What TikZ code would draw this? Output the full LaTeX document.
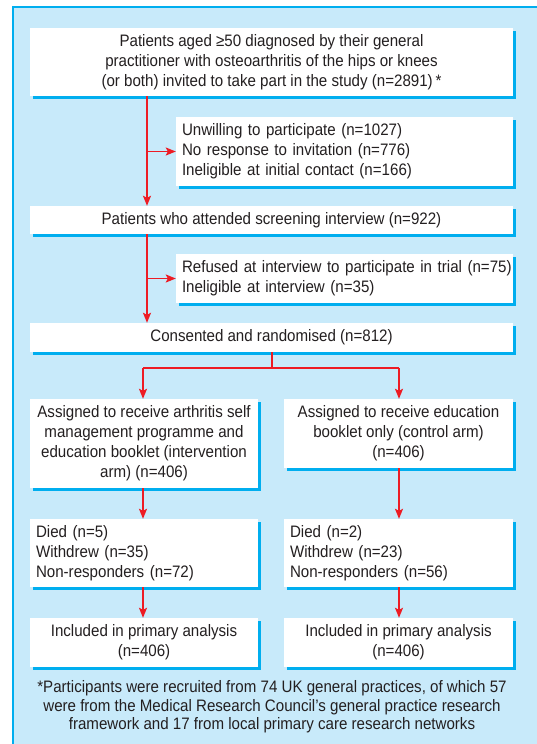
\documentclass[tikz,border=0pt]{standalone}
\usepackage{fontspec}
\setmainfont{Liberation Sans}[FakeStretch=0.91]
\usetikzlibrary{arrows.meta,shadows}
\definecolor{panelblue}{RGB}{200,234,250}
\definecolor{shadowcyan}{RGB}{0,174,239}
\definecolor{arrred}{RGB}{237,28,36}
\definecolor{txt}{RGB}{35,31,32}
\tikzset{
  box/.style={fill=white, inner sep=0pt, text=txt, font=\fontsize{16.6}{20}\selectfont,
    drop shadow={shadow xshift=3pt, shadow yshift=-3pt, fill=shadowcyan, opacity=1}},
  cbox/.style={box, align=center},
  lbox/.style={box, align=left, inner xsep=6pt},
  arr/.style={draw=arrred, line width=1.5pt, -{Stealth[length=10pt,width=8pt,inset=2pt]}},
  lin/.style={draw=arrred, line width=1.5pt},
  note/.style={text=txt, font=\fontsize{16.6}{18.5}\selectfont, align=center, inner sep=0pt}
}
\begin{document}
\begin{tikzpicture}[x=1pt,y=-1pt]
\useasboundingbox (0,0) rectangle (537,744);
\fill[panelblue] (13,7) rectangle (537,744);
\draw[shadowcyan, line width=1.2pt] (13,744) -- (13,7) -- (537,7);

\node[cbox, minimum width=483pt, minimum height=68pt] (b1) at (271.5,62)
  {Patients aged ≥50 diagnosed by their general\\practitioner with osteoarthritis of the hips or knees\\(or both) invited to take part in the study (n=2891)\,*};
\node[lbox, text width=325pt, minimum height=69pt] (b2) at (344.5,151.5)
  {Unwilling to participate (n=1027)\\No response to invitation (n=776)\\Ineligible at initial contact (n=166)};
\node[cbox, minimum width=483pt, minimum height=28pt] (b3) at (271.5,220)
  {Patients who attended screening interview (n=922)};
\node[lbox, text width=325pt, minimum height=49pt] (b4) at (344.5,278.5)
  {\makebox[325pt][l]{Refused at interview to participate in trial (n=75)}\\Ineligible at interview (n=35)};
\node[cbox, minimum width=483pt, minimum height=29pt] (b5) at (271.5,337.5)
  {Consented and randomised (n=812)};
\node[cbox, minimum width=228pt, minimum height=89pt] (b6l) at (144,443.5)
  {Assigned to receive arthritis self\\management programme and\\education booklet (intervention\\arm) (n=406)};
\node[cbox, minimum width=229pt, minimum height=69pt] (b6r) at (398.5,433.5)
  {Assigned to receive education\\booklet only (control arm)\\(n=406)};
\node[lbox, text width=216pt, minimum height=68pt] (b7l) at (144,553)
  {Died (n=5)\\Withdrew (n=35)\\Non-responders (n=72)};
\node[lbox, text width=217pt, minimum height=68pt] (b7r) at (398.5,553)
  {Died (n=2)\\Withdrew (n=23)\\Non-responders (n=56)};
\node[cbox, minimum width=228pt, minimum height=49pt] (b8l) at (144,642.5)
  {Included in primary analysis\\(n=406)};
\node[cbox, minimum width=229pt, minimum height=49pt] (b8r) at (398.5,642.5)
  {Included in primary analysis\\(n=406)};
\node[note] (fn) at (272,707)
  {*Participants were recruited from 74 UK general practices, of which 57\\were from the Medical Research Council's general practice research\\framework and 17 from local primary care research networks};

\coordinate (trunk) at (147,0);
\coordinate (leftc) at (143,0);
\coordinate (rightc) at (399,0);
\coordinate (split) at (272,368);

\draw[arr] (b1.south -| trunk) -- (b3.north -| trunk);
\draw[arr] (b2.west -| trunk) -- (b2.west);
\draw[arr] (b3.south -| trunk) -- (b5.north -| trunk);
\draw[arr] (b4.west -| trunk) -- (b4.west);
\draw[lin] (b5.south -| split) -- (split);
\draw[lin] (split -| leftc) -- (split -| rightc);
\draw[arr] (split -| leftc) -- (b6l.north -| leftc);
\draw[arr] (split -| rightc) -- (b6r.north -| rightc);
\draw[arr] (b6l.south -| leftc) -- (b7l.north -| leftc);
\draw[arr] (b6r.south -| rightc) -- (b7r.north -| rightc);
\draw[arr] (b7l.south -| leftc) -- (b8l.north -| leftc);
\draw[arr] (b7r.south -| rightc) -- (b8r.north -| rightc);
\end{tikzpicture}
\end{document}
